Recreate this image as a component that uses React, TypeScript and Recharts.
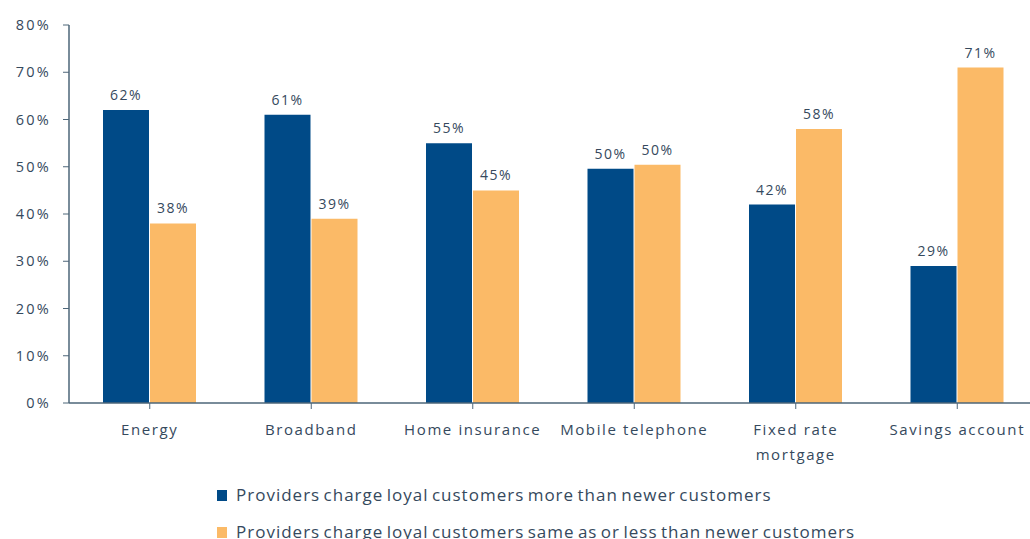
import React from 'react';
import { BarChart, Bar, XAxis, YAxis, LabelList } from 'recharts';

const categories = ['Energy', 'Broadband', 'Home insurance', 'Mobile telephone', 'Fixed rate\nmortgage', 'Savings account'];
const moreValues = [62, 61, 55, 49.6, 42, 29];
const sameOrLessValues = [38, 39, 45, 50.4, 58, 71];
const seriesNames = [
  'Providers charge loyal customers more than newer customers',
  'Providers charge loyal customers same as or less than newer customers',
];
const yTicks = [0, 10, 20, 30, 40, 50, 60, 70, 80];

const DARK = '#004a87';
const ORANGE = '#fbba67';
const TEXT = '#35495d';
const AXIS = '#4d6679';
const FONT = '"Open Sans", sans-serif';

const data = categories.map((c, i) => ({ name: c, more: moreValues[i], same: sameOrLessValues[i] }));

const XTick = (props: any) => {
  const { x, y, payload } = props;
  const lines = String(payload.value).split('\n');
  return (
    <g>
      {lines.map((l: string, i: number) => (
        <text key={i} x={x} y={y + 24 + i * 25} textAnchor="middle" fill={TEXT} fontFamily={FONT} fontSize={15} letterSpacing={1.6}>
          {l}
        </text>
      ))}
    </g>
  );
};

const YTick = (props: any) => {
  const { x, y, payload } = props;
  return (
    <text x={x} y={y + 5} textAnchor="end" fill={TEXT} fontFamily={FONT} fontSize={14.5} letterSpacing={2.2}>
      {`${payload.value}%`}
    </text>
  );
};

const fmt = (v: any) => `${Math.round(Number(v))}%`;

export default function App() {
  return (
    <div style={{ position: 'absolute', left: 0, top: 0, width: 1030, height: 539, overflow: 'hidden', background: '#fff' }}>
      <BarChart
        width={1040}
        height={539}
        data={data}
        margin={{ top: 25, right: 2, left: 0, bottom: 0 }}
        barSize={46}
        barGap={1}
      >
        <XAxis
          dataKey="name"
          height={136}
          tick={<XTick />}
          tickLine={{ stroke: AXIS }}
          axisLine={{ stroke: AXIS, strokeWidth: 1.5 }}
          tickSize={6}
          tickMargin={2}
          interval={0}
        />
        <YAxis
          width={69}
          domain={[0, 80]}
          ticks={yTicks}
          tick={<YTick />}
          tickLine={{ stroke: AXIS }}
          axisLine={{ stroke: AXIS, strokeWidth: 1.5 }}
          tickSize={6}
          tickMargin={12}
        />
        <Bar dataKey="more" name={seriesNames[0]} fill={DARK} isAnimationActive={false}>
          <LabelList dataKey="more" position="top" offset={10} formatter={fmt} fill={TEXT} fontFamily={FONT} fontSize={14} letterSpacing={1.5} />
        </Bar>
        <Bar dataKey="same" name={seriesNames[1]} fill={ORANGE} isAnimationActive={false}>
          <LabelList dataKey="same" position="top" offset={10} formatter={fmt} fill={TEXT} fontFamily={FONT} fontSize={14} letterSpacing={1.5} />
        </Bar>
      </BarChart>
      {seriesNames.map((n, i) => (
        <div key={n} style={{ position: 'absolute', left: 217, top: 485 + i * 37, height: 20, width: 800 }}>
          <span style={{ position: 'absolute', left: 0, top: 5, width: 10, height: 11, background: i === 0 ? DARK : ORANGE }} />
          <span
            style={{
              position: 'absolute',
              left: 19,
              top: 0,
              lineHeight: '20px',
              fontFamily: FONT,
              fontSize: 17,
              color: TEXT,
              letterSpacing: 1.0,
              wordSpacing: -2,
              whiteSpace: 'nowrap',
            }}
          >
            {n}
          </span>
        </div>
      ))}
    </div>
  );
}
